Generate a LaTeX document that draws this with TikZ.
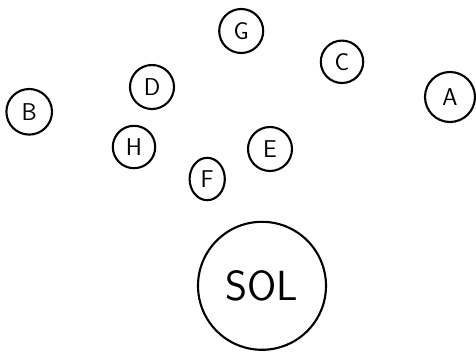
\documentclass[tikz,border=0pt]{standalone}
\usetikzlibrary{shapes.geometric}

\begin{document}
\begin{tikzpicture}[
  planet/.style={draw, circle, minimum size=1.1cm, inner sep=0pt,
                 line width=1.5pt, font=\LARGE\sffamily},
  sun/.style={planet, minimum size=3.2cm, font=\fontsize{30}{32}\selectfont\sffamily}
]
  \useasboundingbox (0,0) rectangle (11.9,8.825);

  \node[planet] (g) at (6.03,8.05) {G};
  \node[planet, minimum size=1.06cm] (c) at (8.55,7.28) {C};
  \node[planet, minimum size=1.25cm] (a) at (11.25,6.40) {A};
  \node[planet, minimum size=1.14cm] (b) at (0.73,6.03) {B};
  \node[planet] (d) at (3.80,6.65) {D};
  \node[planet, minimum size=1.06cm] (h) at (3.35,5.15) {H};
  \node[planet] (e) at (6.75,5.10) {E};
  \node[planet, ellipse, minimum size=0pt, minimum width=0.88cm, minimum height=1.06cm]
      (f) at (5.18,4.35) {F};

  \node[sun] (sol) at (6.55,1.68) {SOL};
\end{tikzpicture}
\end{document}
